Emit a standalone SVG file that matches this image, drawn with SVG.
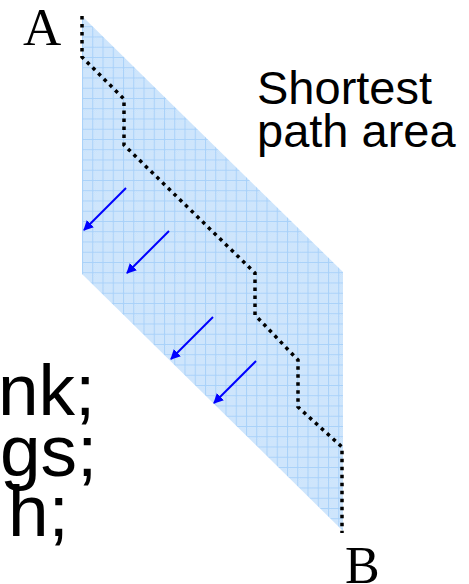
<svg xmlns="http://www.w3.org/2000/svg" width="469" height="584" viewBox="0 0 469 584">
<style>
.lbl{font-family:"Liberation Sans",Arial,sans-serif;fill:#000}
.ser{font-family:"Liberation Serif","Times New Roman",serif;fill:#000}
.arr{stroke:#0000ff;stroke-width:2;fill:none;marker-end:url(#ah)}
.dot{stroke:#000;stroke-width:3.5;fill:none;stroke-dasharray:3.5 4.5}
</style>
<defs>
<pattern id="chk" width="2" height="2" patternUnits="userSpaceOnUse">
<rect width="2" height="2" fill="#d6eafd"/>
<rect width="1" height="1" fill="#c6e1fb"/>
<rect x="1" y="1" width="1" height="1" fill="#c6e1fb"/>
</pattern>
<pattern id="grid" x="82" y="16" width="10.25" height="10.25" patternUnits="userSpaceOnUse">
<rect width="10.25" height="10.25" fill="url(#chk)"/>
<path d="M0.5,0 V10.25 M0,0.5 H10.25" stroke="#a9d1f9" stroke-width="1" fill="none"/>
</pattern>
<marker id="ah" viewBox="0 0 10 10" refX="9" refY="5" markerWidth="5" markerHeight="5" orient="auto" markerUnits="strokeWidth">
<path d="M0,0 L10,5 L0,10 z" fill="#0000ff"/>
</marker>
</defs>
<g id="area">
<polygon points="82,16 343,272 343,531 82,274" fill="url(#grid)"/>
</g>
<g id="connectors">
<path class="dot" d="M82,16 L82,57 L124,99 L124,145 L255,273 L255,315 L298,360 L298,407 L342,447 L342,533"/>
<line class="arr" x1="126" y1="188" x2="84" y2="230"/>
<line class="arr" x1="169" y1="231" x2="127" y2="273"/>
<line class="arr" x1="213" y1="317" x2="171" y2="359"/>
<line class="arr" x1="256" y1="361" x2="214" y2="403"/>
</g>
<g id="labelA"><text class="ser" x="23" y="45" font-size="53">A</text></g>
<g id="labelB"><text class="ser" x="345" y="583" font-size="52">B</text></g>
<g id="title">
<text class="lbl" x="257" y="104" font-size="47">Shortest</text>
<text class="lbl" x="257" y="147" font-size="47">path area</text>
</g>
<g id="sidetext">
<text class="lbl" x="-2" y="415" font-size="73">nk;</text>
<text class="lbl" x="0" y="476" font-size="73">gs;</text>
<text class="lbl" x="8" y="536" font-size="73">h;</text>
</g>
</svg>
